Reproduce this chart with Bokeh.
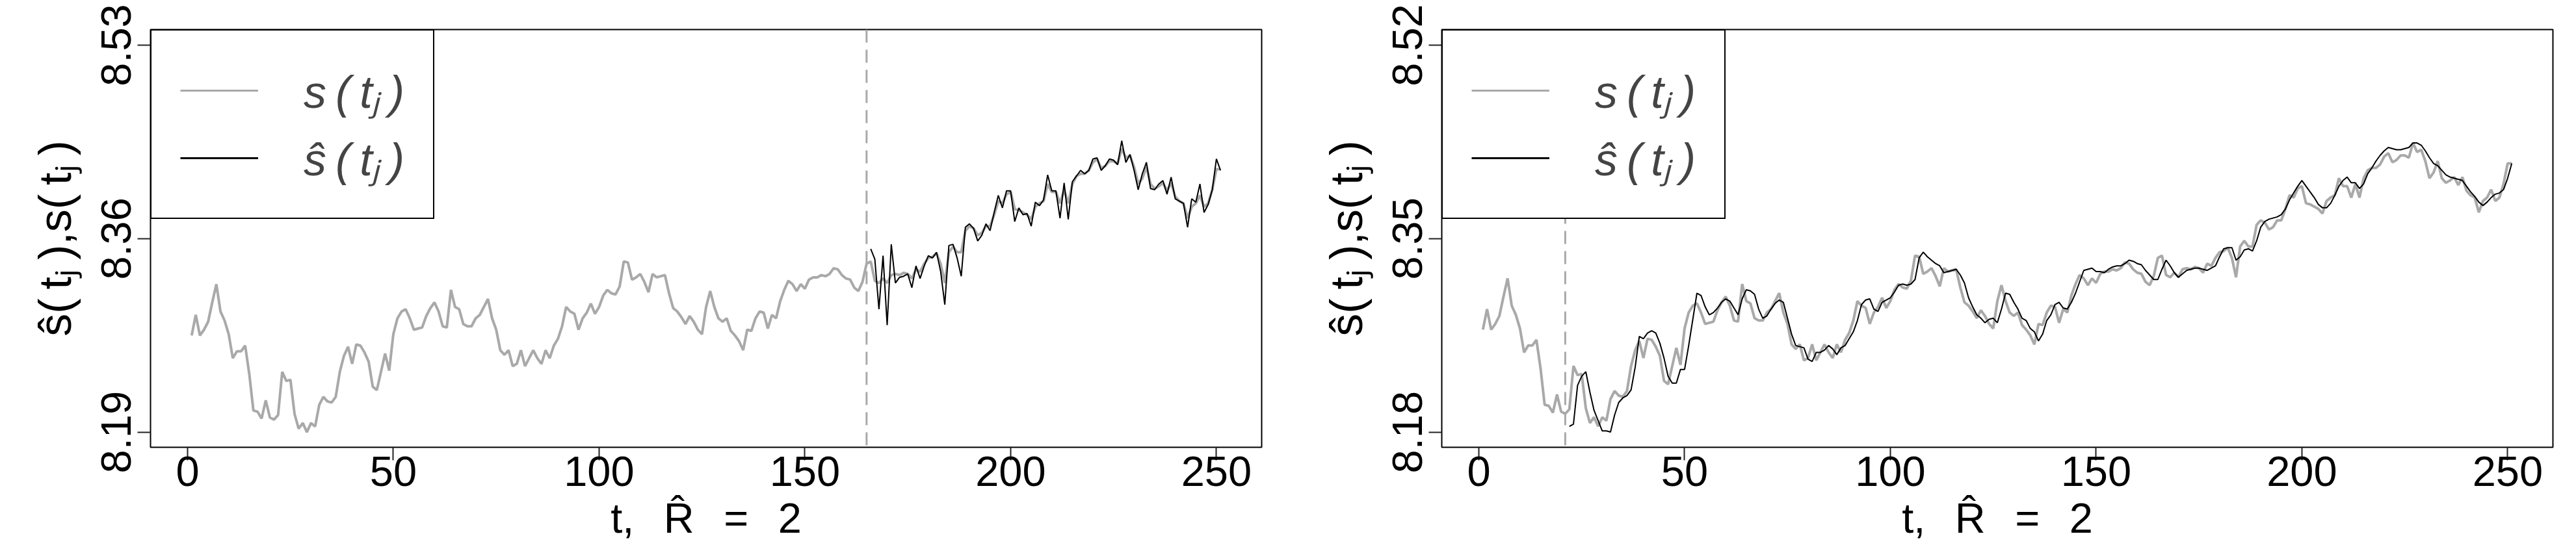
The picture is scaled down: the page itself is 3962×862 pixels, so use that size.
from bokeh.plotting import figure
from bokeh.models import FixedTicker, NumeralTickFormatter, Span, Legend, LegendItem, Range1d
from bokeh.layouts import row
from bokeh.embed import file_html
from bokeh.resources import INLINE

# ---------------- data ----------------
t_obs = list(range(1, 252))
s_obs = [
    8.272, 8.290, 8.272, 8.277, 8.284, 8.301, 8.317, 8.293, 8.285, 8.273,
    8.252, 8.258, 8.258, 8.263, 8.238, 8.206, 8.205, 8.199, 8.215, 8.200,
    8.198, 8.202, 8.240, 8.232, 8.233, 8.203, 8.190, 8.195, 8.187, 8.195,
    8.192, 8.211, 8.218, 8.214, 8.213, 8.218, 8.240, 8.254, 8.262, 8.247,
    8.264, 8.263, 8.257, 8.249, 8.227, 8.224, 8.240, 8.256, 8.241, 8.273,
    8.287, 8.293, 8.295, 8.287, 8.277, 8.278, 8.279, 8.289, 8.296, 8.301,
    8.293, 8.280, 8.279, 8.312, 8.297, 8.295, 8.282, 8.280, 8.280, 8.287,
    8.290, 8.297, 8.304, 8.287, 8.277, 8.259, 8.255, 8.259, 8.245, 8.247,
    8.259, 8.245, 8.252, 8.259, 8.252, 8.247, 8.259, 8.252, 8.263, 8.269,
    8.280, 8.297, 8.293, 8.291, 8.277, 8.287, 8.292, 8.300, 8.291, 8.297,
    8.307, 8.312, 8.309, 8.308, 8.315, 8.337, 8.336, 8.321, 8.323, 8.326,
    8.319, 8.310, 8.326, 8.323, 8.324, 8.325, 8.309, 8.296, 8.293, 8.288,
    8.282, 8.289, 8.284, 8.277, 8.273, 8.297, 8.311, 8.297, 8.287, 8.284,
    8.287, 8.276, 8.272, 8.267, 8.259, 8.277, 8.276, 8.287, 8.293, 8.292,
    8.278, 8.290, 8.287, 8.302, 8.312, 8.320, 8.317, 8.311, 8.317, 8.313,
    8.321, 8.323, 8.323, 8.325, 8.324, 8.326, 8.331, 8.330, 8.325, 8.322,
    8.321, 8.314, 8.311, 8.319, 8.335, 8.337, 8.320, 8.318, 8.322, 8.318,
    8.325, 8.326, 8.325, 8.327, 8.326, 8.322, 8.330, 8.328, 8.335, 8.340,
    8.341, 8.344, 8.335, 8.318, 8.345, 8.350, 8.345, 8.345, 8.364, 8.368,
    8.366, 8.360, 8.362, 8.368, 8.368, 8.378, 8.390, 8.388, 8.396, 8.398,
    8.383, 8.382, 8.380, 8.378, 8.374, 8.385, 8.388, 8.390, 8.405, 8.398,
    8.398, 8.388, 8.400, 8.388, 8.405, 8.412, 8.414, 8.414, 8.417, 8.424,
    8.427, 8.419, 8.421, 8.425, 8.425, 8.423, 8.436, 8.428, 8.430, 8.420,
    8.405, 8.410, 8.420, 8.405, 8.401, 8.403, 8.406, 8.399, 8.406, 8.394,
    8.390, 8.388, 8.375, 8.385, 8.388, 8.395, 8.385, 8.388, 8.400, 8.418,
    8.418,
]

t_fit_left = list(range(166, 252))
s_fit_left = [
    8.348, 8.339, 8.295, 8.342, 8.281, 8.352, 8.318, 8.323, 8.324, 8.326,
    8.314, 8.333, 8.322, 8.333, 8.342, 8.340, 8.345, 8.328, 8.299, 8.351,
    8.352, 8.340, 8.324, 8.367, 8.370, 8.366, 8.355, 8.360, 8.370, 8.364,
    8.380, 8.395, 8.384, 8.399, 8.399, 8.372, 8.384, 8.378, 8.379, 8.368,
    8.389, 8.386, 8.391, 8.413, 8.399, 8.399, 8.375, 8.406, 8.374, 8.407,
    8.412, 8.417, 8.414, 8.417, 8.427, 8.428, 8.417, 8.421, 8.427, 8.426,
    8.422, 8.443, 8.424, 8.431, 8.417, 8.400, 8.414, 8.424, 8.401, 8.400,
    8.405, 8.408, 8.396, 8.411, 8.392, 8.390, 8.388, 8.367, 8.392, 8.389,
    8.405, 8.380, 8.387, 8.400, 8.427, 8.417,
]

t_fit_right = list(range(22, 252))
s_fit_right = [
    8.187, 8.189, 8.223, 8.231, 8.235, 8.217, 8.201, 8.192, 8.183, 8.183,
    8.182, 8.197, 8.208, 8.212, 8.214, 8.219, 8.239, 8.266, 8.264, 8.269,
    8.271, 8.269, 8.260, 8.247, 8.231, 8.225, 8.225, 8.237, 8.237, 8.258,
    8.281, 8.304, 8.302, 8.292, 8.285, 8.287, 8.291, 8.296, 8.299, 8.297,
    8.291, 8.285, 8.299, 8.307, 8.306, 8.303, 8.290, 8.282, 8.284, 8.290,
    8.295, 8.298, 8.296, 8.282, 8.268, 8.258, 8.257, 8.256, 8.246, 8.244,
    8.252, 8.252, 8.254, 8.258, 8.255, 8.250, 8.256, 8.258, 8.264, 8.270,
    8.280, 8.294, 8.298, 8.299, 8.290, 8.288, 8.296, 8.298, 8.300, 8.305,
    8.311, 8.312, 8.311, 8.312, 8.316, 8.335, 8.340, 8.336, 8.333, 8.330,
    8.328, 8.322, 8.323, 8.324, 8.325, 8.320, 8.313, 8.300, 8.292, 8.285,
    8.282, 8.278, 8.281, 8.282, 8.278, 8.290, 8.304, 8.303, 8.296, 8.290,
    8.282, 8.280, 8.273, 8.270, 8.262, 8.268, 8.280, 8.285, 8.294, 8.296,
    8.291, 8.290, 8.296, 8.304, 8.314, 8.324, 8.325, 8.326, 8.323, 8.323,
    8.322, 8.325, 8.327, 8.328, 8.328, 8.330, 8.333, 8.332, 8.330, 8.329,
    8.324, 8.320, 8.316, 8.316, 8.325, 8.333, 8.328, 8.322, 8.318, 8.321,
    8.324, 8.325, 8.326, 8.326, 8.325, 8.324, 8.326, 8.328, 8.336, 8.343,
    8.344, 8.344, 8.333, 8.336, 8.342, 8.343, 8.341, 8.350, 8.362, 8.367,
    8.369, 8.370, 8.371, 8.373, 8.378, 8.386, 8.392, 8.398, 8.403, 8.398,
    8.393, 8.388, 8.382, 8.379, 8.379, 8.383, 8.390, 8.398, 8.403, 8.406,
    8.401, 8.401, 8.396, 8.400, 8.409, 8.414, 8.420, 8.425, 8.429, 8.432,
    8.431, 8.430, 8.430, 8.431, 8.432, 8.436, 8.436, 8.434, 8.429, 8.423,
    8.418, 8.416, 8.412, 8.408, 8.406, 8.405, 8.404, 8.403, 8.398, 8.393,
    8.389, 8.384, 8.381, 8.384, 8.388, 8.391, 8.392, 8.395, 8.405, 8.418,
]

split_left = 165
split_right = 21
x_ticks = [0, 50, 100, 150, 200, 250]
y_ticks_left = [8.187, 8.357, 8.527]
y_ticks_right = [8.1819, 8.3519, 8.5219]
x_limits = (-9, 261)
y_limits_left = (8.1737, 8.5407)
y_limits_right = (8.1686, 8.5356)

legend_labels = ["s\u2009(\u2009t\u2c7c\u2009)", "\u015d\u2009(\u2009t\u2c7c\u2009)"]
x_label = "t,\u2002\u2009R\u0302\u2002\u2009=\u2002\u20092"
y_label = "\u015d(\u2009t\u2c7c\u2009),s(\u2009t\u2c7c\u2009)"

GRAY = "#A9A9A9"
FONT = "Liberation Sans"
NAN = float("nan")


def panel(y_ticks, y_limits, t_fit, s_fit, split, left, right):
    p = figure(frame_width=1709, frame_height=643,
               output_backend="svg", toolbar_location=None,
               x_range=Range1d(*x_limits), y_range=Range1d(*y_limits),
               min_border_left=left, min_border_right=right,
               min_border_top=45, min_border_bottom=158)
    p.grid.visible = False
    p.outline_line_color = "black"
    p.outline_line_width = 2
    p.background_fill_color = "white"
    p.border_fill_color = "white"

    for ax in (p.xaxis[0], p.yaxis[0]):
        ax.axis_line_color = None
        ax.major_tick_in = 0
        ax.major_tick_out = 20
        ax.major_tick_line_width = 2
        ax.major_tick_line_color = "#222222"
        ax.minor_tick_line_color = None
        ax.major_label_text_font = FONT
        ax.major_label_text_font_size = "65px"
        ax.major_label_text_color = "black"
        ax.axis_label_text_font = FONT
        ax.axis_label_text_font_style = "normal"
        ax.axis_label_text_color = "black"

    p.xaxis.ticker = FixedTicker(ticks=x_ticks)
    p.xaxis.major_label_standoff = -6
    p.xaxis.axis_label = x_label
    p.xaxis.axis_label_text_font_size = "65px"
    p.xaxis.axis_label_standoff = 10

    p.yaxis.ticker = FixedTicker(ticks=y_ticks)
    p.yaxis.formatter = NumeralTickFormatter(format="0.00")
    p.yaxis.major_label_orientation = "vertical"
    p.yaxis.major_label_standoff = 10
    p.yaxis.axis_label = y_label
    p.yaxis.axis_label_text_font_size = "70px"
    p.yaxis.axis_label_standoff = 30

    p.add_layout(Span(location=split, dimension="height", line_color=GRAY,
                      line_width=3, line_dash="20 11"))

    p.line(t_obs, s_obs, line_color=GRAY, line_width=4)
    p.line(t_fit, s_fit, line_color="black", line_width=2)

    # legend keys (no visible data, only used for the legend swatches)
    key_obs = p.line([NAN], [NAN], line_color=GRAY, line_width=3)
    key_fit = p.line([NAN], [NAN], line_color="black", line_width=3)

    legend = Legend(items=[LegendItem(label=legend_labels[0], renderers=[key_obs]),
                           LegendItem(label=legend_labels[1], renderers=[key_fit])],
                    location="top_left", margin=0, padding=44, spacing=8,
                    glyph_width=120, glyph_height=80, label_height=80,
                    label_width=130, label_standoff=70,
                    border_line_color="black", border_line_width=2, border_line_alpha=1.0,
                    background_fill_color="white", background_fill_alpha=1.0,
                    label_text_font=FONT, label_text_font_size="70px",
                    label_text_font_style="italic")
    p.add_layout(legend, "center")
    return p


p1 = panel(y_ticks_left, y_limits_left, t_fit_left, s_fit_left, split_left, 231, 40)
p2 = panel(y_ticks_right, y_limits_right, t_fit_right, s_fit_right, split_right, 237, 12)
layout = row(p1, p2)

open("out.html", "w").write(file_html(layout, INLINE))
